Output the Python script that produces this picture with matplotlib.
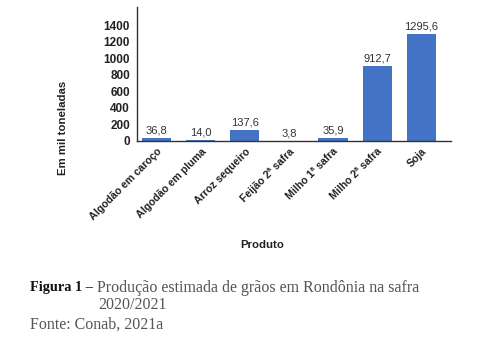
import matplotlib.pyplot as plt

produtos = ["Algodão em caroço", "Algodão em pluma", "Arroz sequeiro",
            "Feijão 2ª safra", "Milho 1ª safra", "Milho 2ª safra", "Soja"]
producao = [36.8, 14.0, 137.6, 3.8, 35.9, 912.7, 1295.6]
y_ticks = [0, 200, 400, 600, 800, 1000, 1200, 1400]

plt.rcParams["font.family"] = ["Liberation Sans", "DejaVu Sans"]

fig = plt.figure(figsize=(4.85, 3.55), dpi=100)
ax = fig.add_axes([0.2825, 0.603, 0.6475, 0.377])

x = range(len(produtos))
bars = ax.bar(x, producao, width=0.66, color="#4472C4", zorder=2)
for xi, v in zip(x, producao):
    ax.text(xi, v + 30, f"{v:.1f}".replace(".", ","), ha="center", va="bottom",
            fontsize=8, color="#333333")

ax.set_xlim(-0.45, 6.68)
ax.set_ylim(0, 1620)
ax.set_yticks(y_ticks)
ax.set_yticklabels([str(t) for t in y_ticks], fontsize=8.5, fontweight="bold", color="#222222")
ax.set_yticks([0], minor=True)
ax.tick_params(axis="y", which="major", length=0, pad=5)
ax.tick_params(axis="y", which="minor", length=4, width=1, color="#333333")
ax.set_xticks(list(x))
ax.set_xticklabels(produtos, rotation=45, ha="right", rotation_mode="anchor",
                   fontsize=7.6, fontweight="bold", color="#222222")
ax.tick_params(axis="x", length=0, pad=4)

for s in ["top", "right"]:
    ax.spines[s].set_visible(False)
ax.spines["left"].set_color("#333333")
ax.spines["bottom"].set_color("#333333")
ax.spines["left"].set_linewidth(1.0)
ax.spines["bottom"].set_linewidth(1.0)

fig.text(0.130, 0.641, "Em mil toneladas", rotation=90, ha="center", va="center",
         fontsize=8.2, fontweight="bold", color="#222222")
fig.text(0.54, 0.31, "Produto", ha="center", va="center",
         fontsize=8.2, fontweight="bold", color="#222222")

serif = ["Liberation Serif", "DejaVu Serif"]
fig.text(0.062, 0.19, "Figura 1 –", family=serif, fontsize=10.3, fontweight="bold",
         color="#111111", va="center")
fig.text(0.200, 0.19, "Produção estimada de grãos em Rondônia na safra", family=serif,
         fontsize=11.5, color="#555555", va="center")
fig.text(0.202, 0.14, "2020/2021", family=serif, fontsize=11.5, color="#555555", va="center")
fig.text(0.062, 0.085, "Fonte: Conab, 2021a", family=serif, fontsize=11.5,
         color="#555555", va="center")

fig.savefig("out.png", dpi=100)
